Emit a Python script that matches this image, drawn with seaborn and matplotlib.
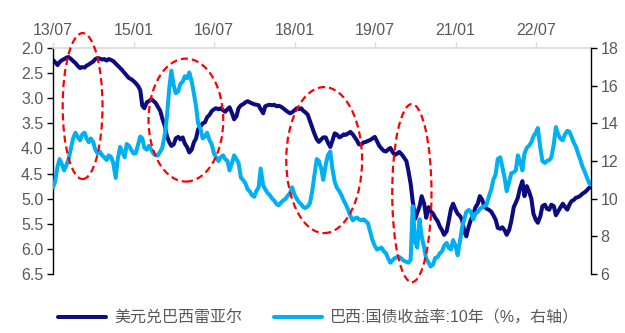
import matplotlib
matplotlib.use("Agg")
import matplotlib.pyplot as plt
import matplotlib.dates as mdates
from matplotlib.patches import Ellipse
from matplotlib.lines import Line2D
from matplotlib.ticker import FormatStrFormatter, MultipleLocator
import numpy as np
import pandas as pd
import seaborn as sns

# Semi-monthly observations, July 2013 - July 2023
dates = pd.date_range("2013-07-01", periods=241, freq="SMS")

usd_brl = [
    2.24, 2.28, 2.34, 2.28, 2.24, 2.22, 2.19, 2.18, 2.22, 2.26,
    2.30, 2.35, 2.40, 2.38, 2.39, 2.35, 2.33, 2.30, 2.27, 2.22,
    2.20, 2.21, 2.23, 2.22, 2.25, 2.22, 2.24, 2.26, 2.31, 2.35,
    2.40, 2.44, 2.50, 2.55, 2.60, 2.62, 2.66, 2.70, 2.76, 2.84,
    3.15, 3.20, 3.08, 3.06, 3.02, 3.05, 3.10, 3.17, 3.25, 3.40,
    3.55, 3.75, 3.88, 3.95, 3.92, 3.80, 3.77, 3.82, 3.78, 3.90,
    3.98, 4.08, 4.02, 3.88, 3.80, 3.62, 3.56, 3.50, 3.48, 3.38,
    3.33, 3.26, 3.22, 3.20, 3.22, 3.20, 3.24, 3.27, 3.22, 3.18,
    3.30, 3.42, 3.36, 3.20, 3.14, 3.12, 3.08, 3.06, 3.08, 3.10,
    3.12, 3.13, 3.14, 3.22, 3.30, 3.16, 3.14, 3.13, 3.14, 3.13,
    3.16, 3.15, 3.17, 3.20, 3.24, 3.27, 3.30, 3.28, 3.24, 3.20,
    3.22, 3.20, 3.25, 3.28, 3.33, 3.45, 3.58, 3.70, 3.82, 3.87,
    3.82, 3.78, 3.78, 3.88, 3.97, 3.85, 3.70, 3.72, 3.78, 3.76,
    3.72, 3.73, 3.70, 3.67, 3.72, 3.78, 3.84, 3.92, 3.92, 3.88,
    3.87, 3.85, 3.83, 3.80, 3.77, 3.85, 3.95, 4.00, 4.05, 4.06,
    4.02, 3.99, 4.08, 4.13, 4.10, 4.07, 4.12, 4.18, 4.25, 4.45,
    4.70, 5.05, 5.40, 5.28, 5.15, 4.95, 5.10, 5.38, 5.17, 5.25,
    5.30, 5.38, 5.45, 5.55, 5.63, 5.72, 5.65, 5.45, 5.20, 5.10,
    5.22, 5.30, 5.35, 5.43, 5.65, 5.75, 5.55, 5.42, 5.32, 5.18,
    5.10, 4.95, 5.02, 5.15, 5.20, 5.22, 5.26, 5.33, 5.42, 5.58,
    5.60, 5.57, 5.63, 5.72, 5.62, 5.45, 5.17, 5.08, 4.98, 4.80,
    4.65, 4.95, 4.75, 4.85, 5.00, 5.30, 5.42, 5.48, 5.35, 5.15,
    5.12, 5.20, 5.22, 5.12, 5.15, 5.33, 5.25, 5.18, 5.10, 5.16,
    5.22, 5.12, 5.05, 5.03, 4.98, 4.97, 4.94, 4.90, 4.87, 4.83, 4.78,
]

brazil_10y = [
    10.6, 10.9, 11.7, 12.1, 11.8, 11.5, 11.8, 12.1, 12.7, 13.2,
    13.5, 13.3, 13.1, 13.4, 13.5, 13.2, 13.0, 13.2, 13.0, 12.6,
    12.4, 12.5, 12.3, 12.2, 12.05, 12.3, 12.2, 11.9, 11.1, 12.1,
    12.75, 12.5, 12.2, 12.9, 12.8, 12.6, 12.4, 12.4, 12.9, 13.3,
    13.2, 12.7, 12.6, 12.8, 12.6, 12.4, 12.3, 12.3, 12.5, 12.7,
    13.4, 14.3, 15.9, 16.8, 16.0, 15.6, 15.7, 16.1, 16.2, 16.5,
    16.4, 16.7, 16.2, 15.6, 14.9, 14.0, 13.7, 13.2, 13.3, 13.5,
    13.1, 12.9, 12.4, 12.2, 12.0, 12.2, 12.3, 12.1, 12.0, 11.5,
    11.9, 12.3, 12.1, 11.9, 11.1, 11.0, 10.8, 10.5, 10.4, 10.2,
    10.1, 10.4, 10.6, 11.6, 10.7, 10.5, 10.3, 10.2, 10.0, 9.9,
    9.7, 9.65, 9.8, 9.9, 10.0, 10.15, 10.3, 10.6, 10.2, 10.0,
    9.8, 9.7, 9.55, 9.5, 9.6, 9.75, 10.4, 11.2, 12.1, 12.0,
    11.6, 11.0, 11.8, 12.3, 12.5, 11.6, 10.9, 10.6, 10.4, 10.2,
    9.9, 9.7, 9.4, 9.1, 8.85, 8.95, 9.0, 8.9, 8.85, 8.9,
    8.8, 8.7, 8.2, 7.8, 7.5, 7.3, 7.35, 7.4, 7.2, 7.1,
    6.8, 6.6, 6.75, 6.85, 6.9, 6.9, 6.8, 6.7, 6.65, 6.6,
    6.75, 9.6, 7.7, 7.4, 8.9, 8.0, 7.4, 6.8, 6.6, 6.4,
    6.5, 6.85, 6.9, 7.1, 7.2, 7.5, 7.65, 7.4, 7.3, 7.8,
    7.5, 7.0, 7.8, 8.5, 8.9, 9.3, 9.4, 9.3, 8.9, 9.2,
    9.3, 9.45, 9.55, 9.6, 9.7, 10.1, 10.5, 11.0, 11.3, 12.1,
    12.2, 11.7, 11.1, 10.4, 10.9, 11.35, 11.4, 11.5, 12.3, 12.0,
    11.5, 12.4, 12.7, 12.8, 13.0, 13.3, 13.5, 13.75, 12.7, 12.0,
    11.9, 12.0, 12.05, 12.2, 12.9, 13.8, 13.4, 13.2, 13.1, 13.4,
    13.6, 13.55, 13.3, 13.0, 12.75, 12.4, 12.05, 11.7, 11.4, 11.1, 10.8,
]

series_labels = ["美元兑巴西雷亚尔", "巴西:国债收益率:10年（%，右轴）"]
x_ticks = pd.date_range("2013-07-01", "2023-01-01", freq="18MS")
left_ticks = np.arange(2.0, 6.51, 0.5)
right_ticks = np.arange(6, 18.1, 2)

NAVY = "#0C0C80"
SKY = "#00B0F0"
GREY = "#595959"

sns.set_theme(style="white")
plt.rcParams["font.family"] = ["Liberation Sans", "Noto Sans CJK SC"]

fig = plt.figure(figsize=(6.25, 3.33), dpi=100)
ax = fig.add_axes([53 / 625, 1 - 274 / 333, 538 / 625, 226 / 333])
ax2 = ax.twinx()

df = pd.DataFrame({"date": dates, "fx": usd_brl, "yld": brazil_10y})
sns.lineplot(data=df, x="date", y="fx", ax=ax, color=NAVY, lw=2.9, legend=False)
sns.lineplot(data=df, x="date", y="yld", ax=ax2, color=SKY, lw=2.9, legend=False)

# left axis: exchange rate, inverted
ax.set_ylim(6.5, 2.0)
ax.set_yticks(left_ticks)
ax.yaxis.set_major_formatter(FormatStrFormatter("%.1f"))
ax.set_xlim(pd.Timestamp("2013-07-01"), pd.Timestamp("2023-07-12"))
ax.set_xticks(x_ticks)
ax.xaxis.set_major_formatter(mdates.DateFormatter("%y/%m"))
ax.xaxis.tick_top()
ax.set_xlabel("")
ax.set_ylabel("")

# right axis: 10y yield
ax2.set_ylim(6, 18)
ax2.set_yticks(right_ticks)
ax2.set_ylabel("")

for a in (ax, ax2):
    for s in a.spines.values():
        s.set_visible(False)
ax.spines["top"].set_visible(True)
ax.spines["top"].set_color("#D9D9D9")
ax.spines["top"].set_linewidth(1.2)
ax.spines["left"].set_visible(True)
ax.spines["left"].set_color("black")
ax.spines["left"].set_linewidth(1.0)
ax2.spines["right"].set_visible(True)
ax2.spines["right"].set_color("black")
ax2.spines["right"].set_linewidth(1.0)

ax.tick_params(axis="y", which="major", left=True, direction="out", length=4,
               width=1, color="black", labelsize=11.5, labelcolor=GREY, pad=3)
ax.tick_params(axis="x", which="major", top=True, bottom=False, direction="out",
               length=4, width=1, color="#D9D9D9", labelsize=11.5, labelcolor=GREY, pad=3)
ax2.tick_params(axis="y", which="major", right=True, direction="out", length=4,
                width=1, color="black", labelsize=11.5, labelcolor=GREY, pad=3)
ax.grid(False)
ax2.grid(False)

# highlighted periods
ellipses = [
    (0.055, 0.743, 0.074, 0.646),
    (0.247, 0.681, 0.139, 0.544),
    (0.504, 0.504, 0.141, 0.646),
    (0.667, 0.358, 0.073, 0.788),
]
for cx, cy, w, h in ellipses:
    e = Ellipse((cx, cy), w, h, transform=ax2.transAxes, fill=False,
                edgecolor="#FF0000", lw=1.6, linestyle=(0, (3.2, 1.8)),
                clip_on=False, zorder=10)
    ax2.add_patch(e)

handles = [Line2D([], [], color=NAVY, lw=2.9), Line2D([], [], color=SKY, lw=2.9)]
fig.legend(handles, series_labels, loc="center", bbox_to_anchor=(0.51, 15 / 333),
           ncol=2, frameon=False, handlelength=3.0, handletextpad=0.5,
           columnspacing=2.0, prop={"size": 11.5}, labelcolor=GREY)

fig.savefig("out.png", dpi=100)
